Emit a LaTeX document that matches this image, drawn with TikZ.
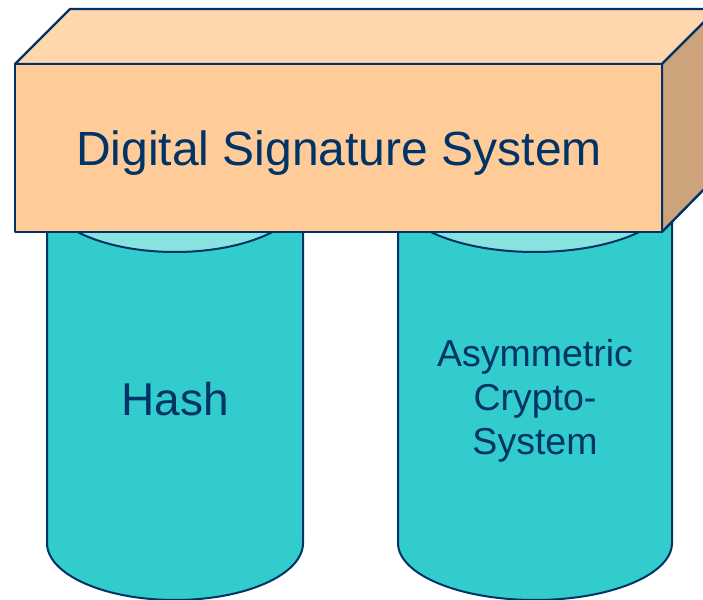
\documentclass[tikz,border=0pt]{standalone}
\usepackage{fontspec}
\setmainfont{Liberation Sans}
\definecolor{navy}{HTML}{003366}
\definecolor{peachfront}{HTML}{FFCC99}
\definecolor{peachtop}{HTML}{FFD6AD}
\definecolor{peachside}{HTML}{CCA37A}
\definecolor{teal}{HTML}{33CCCC}
\definecolor{tealtop}{HTML}{88E2E0}
\tikzset{
  outline/.style={draw=navy, line width=2pt, line join=round},
  cylbody/.style={outline, fill=teal},
  cyltop/.style={outline, fill=tealtop},
  boxface/.style={outline, line width=2.4pt},
  label/.style={text=navy, inner sep=0pt, align=center}
}
\begin{document}
\begin{tikzpicture}[x=1pt,y=1pt]
\useasboundingbox (0,0) rectangle (703,599);
\begin{scope}
\clip (0,0) rectangle (703,599);
% left cylinder (hash)
\draw[cylbody] (47,404) -- (47,56) arc[start angle=180, end angle=360, x radius=128pt, y radius=57pt] -- (303,404) -- cycle;
\draw[cyltop] (175,404) ellipse[x radius=128pt, y radius=57pt];
% right cylinder (asymmetric crypto-system)
\draw[cylbody] (398,404) -- (398,56) arc[start angle=180, end angle=360, x radius=137pt, y radius=57pt] -- (672,404) -- cycle;
\draw[cyltop] (535,404) ellipse[x radius=137pt, y radius=57pt];
% the block resting on both cylinders
\draw[boxface, fill=peachtop] (15,535) -- (70,590) -- (717,590) -- (662,535) -- cycle;
\draw[boxface, fill=peachside] (662,535) -- (717,590) -- (717,423) -- (662,367) -- cycle;
\draw[boxface, fill=peachfront] (15,367) rectangle (662,535);
\end{scope}
\node[label, anchor=base, font=\fontsize{48}{57}\selectfont] (dss) at (339,433) {Digital Signature System};
\node[label, anchor=base, font=\fontsize{46}{55}\selectfont] (hash) at (175,183) {Hash};
\node[label, anchor=center, font=\fontsize{37.5}{44}\selectfont] (acs) at (535,198) {Asymmetric\\Crypto-\\System};
\end{tikzpicture}
\end{document}
